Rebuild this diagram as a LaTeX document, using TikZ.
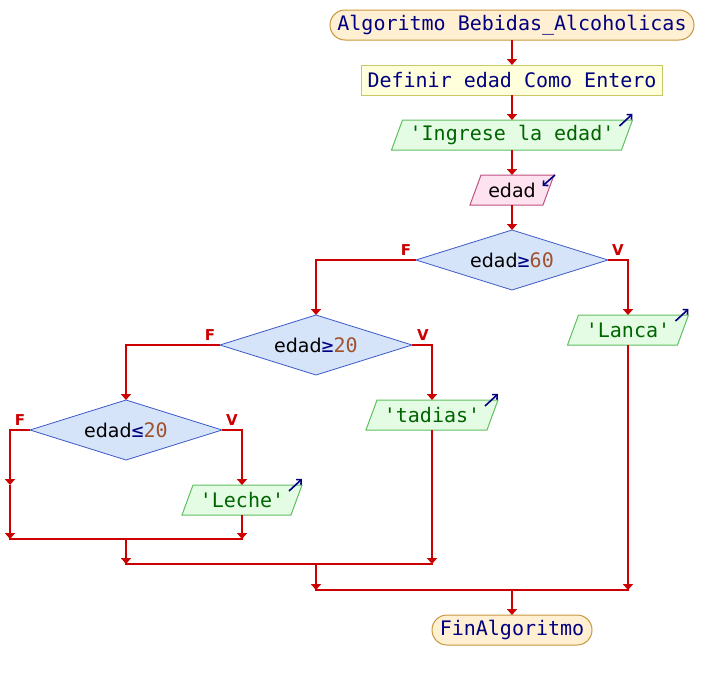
\documentclass[tikz,border=0pt]{standalone}
\usepackage{fontspec}
\setmainfont{DejaVu Sans}
\newfontfamily\monof{DejaVu Sans Mono}
\usetikzlibrary{shapes.geometric,arrows.meta,backgrounds,calc}
\definecolor{flow}{HTML}{CC0000}
\definecolor{navytxt}{HTML}{000080}
\definecolor{greentxt}{HTML}{006400}
\definecolor{numtxt}{HTML}{A0522D}
\definecolor{termfill}{HTML}{FFF0D4}
\definecolor{termdraw}{HTML}{C8963C}
\definecolor{deffill}{HTML}{FFFFDC}
\definecolor{defdraw}{HTML}{C8C864}
\definecolor{outfill}{HTML}{E4FCE4}
\definecolor{outdraw}{HTML}{60C060}
\definecolor{infill}{HTML}{FFE2F0}
\definecolor{indraw}{HTML}{C05080}
\definecolor{decfill}{HTML}{D6E4FA}
\definecolor{decdraw}{HTML}{3C5AC8}
\newcommand{\sq}{\textquotesingle}
\newcommand{\monosize}{\monof\fontsize{20}{24}\selectfont}
\newcommand{\sanssize}{\fontsize{19}{23}\selectfont}
\newcommand{\drawpara}[3]{%
  \begin{scope}[on background layer]
    \draw[fill=#2, draw=#3, line width=1pt]
      ([xshift=-5.5pt]#1.south west) -- ([xshift=-5.5pt]#1.south east) --
      ([xshift=5.5pt]#1.north east) -- ([xshift=5.5pt]#1.north west) -- cycle;
  \end{scope}}
\newcommand{\condtext}[2]{{\sanssize edad}{\color{navytxt}\monosize #1}{\color{numtxt}\monosize #2}}
\tikzset{
  every node/.style={inner sep=0pt, outer sep=0pt},
  term/.style={rectangle, rounded corners=15pt, draw=termdraw, fill=termfill, line width=1pt,
    minimum height=30pt, text=navytxt, font=\monosize},
  defbox/.style={rectangle, draw=defdraw, fill=deffill, line width=1pt,
    minimum height=30pt, text=navytxt, font=\monosize},
  outbox/.style={rectangle, minimum height=30pt, text=greentxt, font=\monosize},
  inbox/.style={rectangle, minimum height=30pt, text=black, font=\sanssize},
  dec/.style={diamond, aspect=3.2, minimum width=192pt, minimum height=60pt,
    draw=decdraw, fill=decfill, line width=0.8pt},
  flowline/.style={draw=flow, line width=2.8pt},
  flowarrow/.style={flowline, -{Triangle[width=10pt,length=6pt]}},
  hline/.style={flowline, line cap=rect},
  branch/.style={text=flow, font=\bfseries\fontsize{15}{18}\selectfont},
  iconarrow/.style={draw=navytxt, line width=1.6pt, -{Straight Barb[length=3.5pt,width=7pt]}},
}
\begin{document}
\begin{tikzpicture}[x=1pt,y=-1pt]
\useasboundingbox (0,0) rectangle (720,680);
% nodes
\node[term, minimum width=364pt] (start) at (512,25) {Algoritmo Bebidas\_Alcoholicas};
\node[defbox, minimum width=301pt] (def) at (512,80) {Definir edad Como Entero};
\node[outbox, minimum width=230pt] (out1) at (512,135) {\sq Ingrese la edad\sq};
\node[inbox, minimum width=73pt] (in1) at (512,190) {edad};
\node[dec] (d1) at (512,260) {\condtext{≥}{60}};
\node[outbox, minimum width=110pt] (lanca) at (628,330) {\sq Lanca\sq};
\node[dec] (d2) at (316,345) {\condtext{≥}{20}};
\node[outbox, minimum width=121pt] (tadias) at (432,415) {\sq tadias\sq};
\node[dec] (d3) at (126,430) {\condtext{≤}{20}};
\node[outbox, minimum width=109pt] (leche) at (242,500) {\sq Leche\sq};
\node[term, minimum width=160pt] (fin) at (512,630) {FinAlgoritmo};
% parallelogram bodies
\drawpara{out1}{outfill}{outdraw}
\drawpara{in1}{infill}{indraw}
\drawpara{lanca}{outfill}{outdraw}
\drawpara{tadias}{outfill}{outdraw}
\drawpara{leche}{outfill}{outdraw}
% icons
\draw[iconarrow] ($(out1.north east)+(-7.5,6)$) -- ($(out1.north east)+(5.5,-6)$);
\draw[iconarrow] ($(lanca.north east)+(-7.5,6)$) -- ($(lanca.north east)+(5.5,-6)$);
\draw[iconarrow] ($(tadias.north east)+(-7.5,6)$) -- ($(tadias.north east)+(5.5,-6)$);
\draw[iconarrow] ($(leche.north east)+(-7.5,6)$) -- ($(leche.north east)+(5.5,-6)$);
\draw[iconarrow] ($(in1.north east)+(6.5,0)$) -- ($(in1.north east)+(-6,11)$);
% junction points
\coordinate (f3a) at (10,485);
\coordinate (m1L) at (10,539);
\coordinate (m1R) at (242,539);
\coordinate (m1C) at (126,539);
\coordinate (m2L) at (126,564);
\coordinate (m2R) at (432,564);
\coordinate (m2C) at (316,564);
\coordinate (m3L) at (316,590);
\coordinate (m3R) at (628,590);
\coordinate (m3C) at (512,590);
% connectors
\draw[flowarrow] (start) -- (def);
\draw[flowarrow] (def) -- (out1);
\draw[flowarrow] (out1) -- (in1);
\draw[flowarrow] (in1) -- (d1);
\draw[flowarrow] (d1.west) -| (d2.north);
\draw[flowarrow] (d1.east) -| (lanca.north);
\draw[flowarrow] (d2.west) -| (d3.north);
\draw[flowarrow] (d2.east) -| (tadias.north);
\draw[flowarrow] (d3.west) -| (f3a);
\draw[flowarrow] (f3a) -- (m1L);
\draw[flowarrow] (d3.east) -| (leche.north);
\draw[flowarrow] (leche) -- (m1R);
\draw[hline] (m1L) -- (m1R);
\draw[flowarrow] (m1C) -- (m2L);
\draw[flowarrow] (tadias) -- (m2R);
\draw[hline] (m2L) -- (m2R);
\draw[flowarrow] (m2C) -- (m3L);
\draw[flowarrow] (lanca) -- (m3R);
\draw[hline] (m3L) -- (m3R);
\draw[flowarrow] (m3C) -- (fin);
% branch labels
\node[branch] (f1) at (406,250) {F};
\node[branch] (v1) at (618,250) {V};
\node[branch] (f2) at (210,335) {F};
\node[branch] (v2) at (423,335) {V};
\node[branch] (f3) at (20,420) {F};
\node[branch] (v3) at (232,420) {V};
\end{tikzpicture}
\end{document}
